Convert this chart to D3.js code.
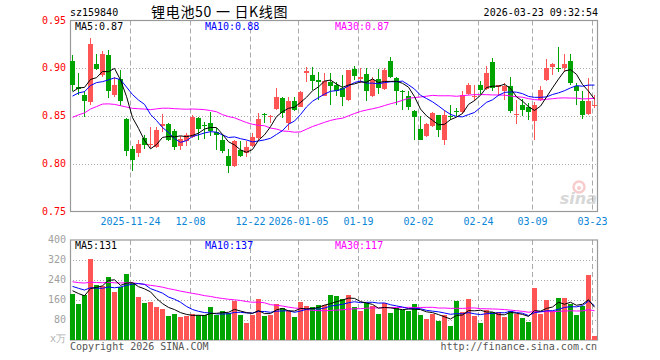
<!DOCTYPE html>
<html>
<head>
<meta charset="utf-8">
<script src="https://cdn.jsdelivr.net/npm/d3@7"></script>
<style>
  html, body { margin: 0; padding: 0; background: #fff; }
  svg { display: block; font-family: "DejaVu Sans Mono", monospace; }
</style>
</head>
<body>
<div id="chart-kline" style="width:660px;height:360px"></div>
<script>
// sz159840 daily K line, 2025-11-10 .. 2026-03-23

const dates = [
  "2025-11-10","2025-11-11","2025-11-12","2025-11-13","2025-11-14","2025-11-17","2025-11-18","2025-11-19","2025-11-20","2025-11-21",
  "2025-11-24","2025-11-25","2025-11-26","2025-11-27","2025-11-28","2025-12-01","2025-12-02","2025-12-03","2025-12-04","2025-12-05",
  "2025-12-08","2025-12-09","2025-12-10","2025-12-11","2025-12-12","2025-12-15","2025-12-16","2025-12-17","2025-12-18","2025-12-19",
  "2025-12-22","2025-12-23","2025-12-24","2025-12-25","2025-12-26","2025-12-29","2025-12-30","2025-12-31","2026-01-05","2026-01-06",
  "2026-01-07","2026-01-08","2026-01-09","2026-01-12","2026-01-13","2026-01-14","2026-01-15","2026-01-16","2026-01-19","2026-01-20",
  "2026-01-21","2026-01-22","2026-01-23","2026-01-26","2026-01-27","2026-01-28","2026-01-29","2026-01-30","2026-02-02","2026-02-03",
  "2026-02-04","2026-02-05","2026-02-06","2026-02-09","2026-02-10","2026-02-11","2026-02-12","2026-02-13","2026-02-24","2026-02-25",
  "2026-02-26","2026-02-27","2026-03-02","2026-03-03","2026-03-04","2026-03-05","2026-03-06","2026-03-09","2026-03-10","2026-03-11",
  "2026-03-12","2026-03-13","2026-03-16","2026-03-17","2026-03-18","2026-03-19","2026-03-20","2026-03-23"
];

const open = [
  0.9076,0.880,0.8715,0.8642,0.9048,0.893,0.914,0.8722,0.889,0.847,
  0.815,0.811,0.827,0.820,0.818,0.8395,0.8417,0.834,0.8183,0.8243,
  0.828,0.8475,0.8405,0.8427,0.8334,0.8253,0.8086,0.7975,0.8149,0.8115,
  0.8191,0.827,0.8516,0.849,0.8573,0.8688,0.8427,0.8652,0.8594,0.8954,
  0.893,0.8878,0.8712,0.8861,0.8826,0.8792,0.867,0.8993,0.8892,0.8941,
  0.8705,0.8885,0.8785,0.9073,0.8896,0.8767,0.8712,0.8556,0.8368,0.8288,
  0.840,0.8514,0.8253,0.850,0.8552,0.8538,0.8733,0.871,0.8826,0.8785,
  0.9069,0.8799,0.8757,0.8809,0.8518,0.8618,0.859,0.8444,0.8663,0.8878,
  0.9017,0.9003,0.9007,0.9076,0.8819,0.8653,0.8521,0.860
];
const high = [
  0.914,0.895,0.876,0.932,0.915,0.918,0.919,0.8913,0.898,0.848,
  0.819,0.825,0.830,0.839,0.839,0.8517,0.843,0.836,0.8288,0.8323,
  0.8514,0.849,0.8434,0.8538,0.8375,0.830,0.815,0.825,0.8235,0.8235,
  0.8323,0.853,0.8531,0.851,0.879,0.870,0.8704,0.870,0.8767,0.9017,
  0.901,0.8965,0.8948,0.8948,0.8861,0.8931,0.8983,0.9024,0.900,0.900,
  0.8913,0.899,0.900,0.9122,0.8906,0.8774,0.8757,0.8566,0.8497,0.8427,
  0.8538,0.8514,0.8566,0.8618,0.8583,0.8764,0.8844,0.8826,0.8868,0.9024,
  0.9104,0.8826,0.8844,0.8906,0.867,0.8677,0.8635,0.8642,0.8809,0.9094,
  0.9059,0.9226,0.9146,0.9146,0.8844,0.8757,0.8896,0.8722
];
const low = [
  0.876,0.872,0.849,0.862,0.898,0.891,0.869,0.870,0.860,0.8086,
  0.792,0.807,0.8156,0.8167,0.8167,0.833,0.8235,0.8142,0.8142,0.8183,
  0.827,0.8253,0.826,0.8295,0.8145,0.811,0.7906,0.7965,0.8073,0.8073,
  0.818,0.8253,0.8427,0.843,0.8566,0.848,0.8357,0.8548,0.859,0.886,
  0.8774,0.867,0.8705,0.8618,0.8705,0.860,0.8653,0.8878,0.8844,0.8653,
  0.8698,0.8733,0.8774,0.8896,0.8618,0.8566,0.8566,0.8253,0.8247,0.8281,
  0.8385,0.8278,0.8201,0.8455,0.8497,0.8524,0.8722,0.8653,0.8733,0.8774,
  0.8757,0.8705,0.867,0.8531,0.8417,0.8497,0.8462,0.8247,0.8653,0.8868,
  0.8931,0.8965,0.8965,0.8826,0.8618,0.8472,0.8507,0.8583
];
const close = [
  0.8826,0.878,0.8652,0.9256,0.8993,0.915,0.8767,0.8826,0.8652,0.813,
  0.804,0.8205,0.820,0.8207,0.835,0.8417,0.8253,0.818,0.826,0.8305,
  0.8486,0.8368,0.840,0.834,0.830,0.8131,0.798,0.8235,0.808,0.8173,
  0.8278,0.847,0.8512,0.8505,0.8704,0.8531,0.8652,0.8566,0.8756,0.8975,
  0.8871,0.8858,0.8868,0.8809,0.8767,0.8698,0.8983,0.8924,0.8906,0.8757,
  0.8872,0.8792,0.8983,0.8906,0.8767,0.8764,0.859,0.8486,0.8253,0.8417,
  0.8531,0.8351,0.8514,0.8497,0.8548,0.8722,0.8826,0.8714,0.8774,0.8955,
  0.8792,0.8826,0.8816,0.8549,0.8521,0.8566,0.8538,0.8618,0.8774,0.900,
  0.9042,0.8998,0.9042,0.8844,0.8757,0.8507,0.8653,0.8618
];
// volume, 万手
const volume = [
  184,144,180,324,220,216,252,192,212,264,
  227,172,148,152,132,124,96,104,92,96,
  104,99,99,132,100,116,107,157,100,68,
  100,164,96,100,144,127,116,92,152,136,
  132,139,139,180,176,164,180,132,116,148,
  136,104,147,108,128,120,116,144,100,84,
  104,76,100,56,156,112,164,96,68,120,
  112,112,92,116,104,88,72,208,104,160,
  116,167,168,144,100,136,259,16
];

// 29 sessions before the window, estimated from where the MA lines start
const prevClose = [
  0.800,0.803,0.805,0.822,0.836,0.870,0.900,0.905,0.855,0.845,
  0.834,0.830,0.840,0.810,0.820,0.826,0.832,0.836,0.838,0.842,
  0.845,0.852,0.862,0.868,0.905,0.858,0.862,0.884,0.890
];
const prevVolume = [
  250,230,220,260,240,210,245,230,236,230,
  280,240,260,230,250,270,240,255,230,240,
  220,250,230,240,219,200,224,180,197
];

const priceTicks = [0.75, 0.80, 0.85, 0.90, 0.95];
const volumeTicks = [80, 160, 240, 320, 400];
const dateTicks = ["2025-11-24","2025-12-08","2025-12-22","2026-01-05","2026-01-19","2026-02-02","2026-02-24","2026-03-09","2026-03-23"];
const dateTickLabels = ["2025-11-24","12-08","12-22","2026-01-05","01-19","02-02","02-24","03-09","03-23"];

const RED = "#ff5555", GREEN = "#00a400";
const MA_COLORS = { 5: "#000000", 10: "#0000ff", 30: "#ff00ff" };

function movingAverage(prev, values, n) {
  const all = prev.concat(values);
  const off = prev.length;
  return values.map((_, i) => d3.mean(all.slice(off + i - n + 1, off + i + 1)));
}

function renderKLine(containerId) {
  const width = 660, height = 360;
  const plot = { left: 70, right: 598 };
  const pricePane = { top: 20.5, bottom: 211.5 };
  const volPane = { top: 240, bottom: 340 };

  const container = d3.select(`#${containerId}`);
  container.selectAll("*").remove();
  const svg = container.append("svg").attr("width", width).attr("height", height);

  const x = d3.scaleBand()
    .domain(dates)
    .range([plot.left, plot.right])
    .paddingInner(0.2).paddingOuter(0).align(0)
    .round(true);
  const bw = x.bandwidth();
  const cx = d => x(d) + bw / 2;

  const yP = d3.scaleLinear().domain([0.75, 0.95]).range([pricePane.bottom, pricePane.top]);
  const yV = d3.scaleLinear().domain([0, 400]).range([volPane.bottom, volPane.top]);

  const rows = dates.map((d, i) => ({
    date: d, o: open[i], h: high[i], l: low[i], c: close[i], v: volume[i],
    up: close[i] >= open[i]
  }));

  // header
  svg.append("text").attr("x", plot.left).attr("y", 13)
    .attr("dominant-baseline", "middle").style("font-size", "10px").attr("fill", "#000")
    .text("sz159840");
  svg.append("text").attr("x", 151).attr("y", 13)
    .attr("dominant-baseline", "middle")
    .style("font-family", "'Noto Sans CJK SC', sans-serif").style("font-size", "14px")
    .style("letter-spacing", "0.7px")
    .attr("fill", "#000")
    .text("锂电池50 一 日K线图");
  svg.append("text").attr("x", plot.right).attr("y", 13)
    .attr("text-anchor", "end").attr("dominant-baseline", "middle")
    .style("font-size", "10px").attr("fill", "#000")
    .text("2026-03-23 09:32:54");

  // grids
  const drawPane = (pane, yScale, ticks) => {
    const g = svg.append("g");
    g.selectAll("line.h")
      .data(ticks.filter(t => yScale(t) > pane.top + 1 && yScale(t) < pane.bottom - 1))
      .join("line")
      .attr("x1", plot.left).attr("x2", plot.right)
      .attr("y1", t => Math.round(yScale(t)) + 0.5).attr("y2", t => Math.round(yScale(t)) + 0.5)
      .attr("stroke", "#aaa").attr("stroke-dasharray", "1,2");
    g.selectAll("line.v")
      .data(dateTicks)
      .join("line")
      .attr("x1", d => x(d) + 0.5).attr("x2", d => x(d) + 0.5)
      .attr("y1", pane.top).attr("y2", pane.bottom)
      .attr("stroke", "#aaa").attr("stroke-dasharray", "5,3");
    g.append("rect")
      .attr("x", plot.left + 0.5).attr("y", pane.top)
      .attr("width", plot.right - plot.left - 1).attr("height", pane.bottom - pane.top)
      .attr("fill", "none").attr("stroke", "#999").attr("stroke-width", 1.2);
  };
  drawPane(pricePane, yP, priceTicks);
  drawPane(volPane, yV, volumeTicks);

  // price labels
  svg.append("g").selectAll("text")
    .data(priceTicks)
    .join("text")
    .attr("x", 66).attr("y", t => yP(t))
    .attr("text-anchor", "end").attr("dominant-baseline", "middle")
    .style("font-size", "10px").attr("fill", "#ff0000")
    .text(t => t.toFixed(2));

  // volume labels
  svg.append("g").selectAll("text")
    .data(volumeTicks)
    .join("text")
    .attr("x", 66).attr("y", t => yV(t))
    .attr("text-anchor", "end").attr("dominant-baseline", "middle")
    .style("font-size", "10px").attr("fill", "#a0a0a0")
    .text(t => t);
  svg.append("text").attr("x", 66).attr("y", volPane.bottom - 1)
    .attr("text-anchor", "end").attr("dominant-baseline", "middle")
    .style("font-size", "10px").attr("fill", "#b0b0b0")
    .text("x万");

  // date labels
  svg.append("g").selectAll("text")
    .data(dateTicks)
    .join("text")
    .attr("x", d => x(d) + 0.5).attr("y", 222)
    .attr("text-anchor", "middle").attr("dominant-baseline", "middle")
    .style("font-size", "10px").attr("fill", "#0a86d8")
    .text((d, i) => dateTickLabels[i]);

  // sina watermark
  const wm = svg.append("g").attr("opacity", 0.45);
  wm.append("circle").attr("cx", 579).attr("cy", 187).attr("r", 5.5)
    .attr("fill", "none").attr("stroke", "#f09090").attr("stroke-width", 2.5);
  wm.append("circle").attr("cx", 579).attr("cy", 188).attr("r", 2).attr("fill", "#f09090");
  wm.append("text").attr("x", 597).attr("y", 204)
    .attr("text-anchor", "end")
    .style("font-family", "'DejaVu Sans', sans-serif").style("font-size", "16px")
    .style("font-style", "italic").style("font-weight", "bold")
    .attr("fill", "#a8a8a8")
    .text("sina");

  // candles
  const candles = svg.append("g").attr("shape-rendering", "crispEdges");
  candles.selectAll("line")
    .data(rows)
    .join("line")
    .attr("x1", d => x(d.date) + Math.floor(bw / 2) + 0.5)
    .attr("x2", d => x(d.date) + Math.floor(bw / 2) + 0.5)
    .attr("y1", d => yP(d.h)).attr("y2", d => yP(d.l))
    .attr("stroke", d => d.up ? RED : GREEN);
  candles.selectAll("rect")
    .data(rows)
    .join("rect")
    .attr("x", d => x(d.date))
    .attr("width", bw)
    .attr("y", d => yP(Math.max(d.o, d.c)))
    .attr("height", d => Math.max(1, Math.abs(yP(d.o) - yP(d.c))))
    .attr("fill", d => d.up ? RED : GREEN);

  // volume bars
  svg.append("g").attr("shape-rendering", "crispEdges")
    .selectAll("rect")
    .data(rows)
    .join("rect")
    .attr("x", d => x(d.date))
    .attr("width", bw)
    .attr("y", d => yV(d.v))
    .attr("height", d => volPane.bottom - yV(d.v))
    .attr("fill", d => d.up ? RED : GREEN);

  // moving averages
  const priceMA = {}, volMA = {};
  [5, 10, 30].forEach(n => {
    priceMA[n] = movingAverage(prevClose, close, n);
    volMA[n] = movingAverage(prevVolume, volume, n);
  });

  [30, 10, 5].forEach(n => {
    svg.append("path")
      .datum(priceMA[n])
      .attr("fill", "none").attr("stroke", MA_COLORS[n]).attr("stroke-width", 1)
      .attr("d", d3.line().x((v, i) => cx(dates[i])).y(v => yP(v)));
    svg.append("path")
      .datum(volMA[n])
      .attr("fill", "none").attr("stroke", MA_COLORS[n]).attr("stroke-width", 1)
      .attr("d", d3.line().x((v, i) => cx(dates[i])).y(v => yV(v)));
  });

  // legends
  const last = dates.length - 1;
  const legendX = { 5: 75, 10: 205, 30: 335 };
  [5, 10, 30].forEach(n => {
    svg.append("text").attr("x", legendX[n]).attr("y", 27)
      .attr("dominant-baseline", "middle").style("font-size", "10px")
      .attr("fill", MA_COLORS[n])
      .text(`MA${n}:${priceMA[n][last].toFixed(2)}`);
    svg.append("text").attr("x", legendX[n]).attr("y", 246)
      .attr("dominant-baseline", "middle").style("font-size", "10px")
      .attr("fill", MA_COLORS[n])
      .text(`MA${n}:${Math.round(volMA[n][last])}`);
  });

  // footer
  svg.append("text").attr("x", plot.left).attr("y", 347)
    .attr("dominant-baseline", "middle").style("font-size", "10px").attr("fill", "#555")
    .text("Copyright 2026 SINA.COM");
  svg.append("text").attr("x", plot.right - 1).attr("y", 347)
    .attr("text-anchor", "end").attr("dominant-baseline", "middle")
    .style("font-size", "10px").attr("fill", "#555")
    .text("http://finance.sina.com.cn");
}

document.addEventListener("DOMContentLoaded", () => {
  renderKLine("chart-kline");
});
</script>
</body>
</html>
